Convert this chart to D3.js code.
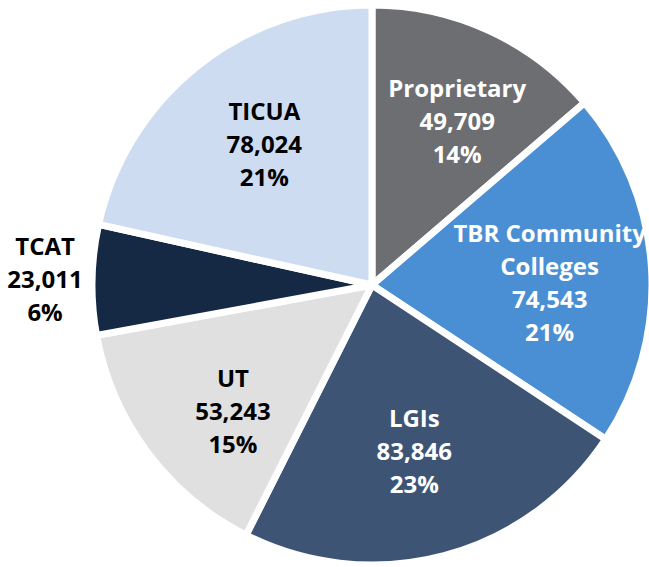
<!DOCTYPE html>
<html>
<head>
<meta charset="utf-8">
<script src="https://cdn.jsdelivr.net/npm/d3@7"></script>
<style>
	html, body { margin: 0; padding: 0; background: #ffffff; }
	svg text { font-family: "Open Sans", sans-serif; font-weight: bold; }
</style>
</head>
<body>
<div id="chart"></div>
<script>
// data
var categories = ["Proprietary", "TBR Community Colleges", "LGIs", "UT", "TCAT", "TICUA"]
var labelLines = [["Proprietary"], ["TBR Community", "Colleges"], ["LGIs"], ["UT"], ["TCAT"], ["TICUA"]]
var enrollment = [49709, 74543, 83846, 53243, 23011, 78024]
var percentLabels = ["14%", "21%", "23%", "15%", "6%", "21%"]

// styles
var sliceColors = ["#6d6e71", "#4a8fd4", "#3e5475", "#e0e0e0", "#152844", "#cddcf1"]
var textColors = ["#ffffff", "#ffffff", "#ffffff", "#000000", "#000000", "#000000"]
var outsideLabel = [false, false, false, false, true, false]
// small label nudges (px) so labels sit where the original placed them
var labelNudge = [[10, 0], [-2, 9], [-4, -7], [5, 19], [5, 1], [5, 0]]

var width = 649
var height = 567
var cx = 372
var cy = 285
var radius = 280
var labelRadius = 180
var outerLabelRadius = 332
var lineHeight = 33

var data = categories.map(function (c, i) {
	return { name: c, lines: labelLines[i], value: enrollment[i], pct: percentLabels[i],
		color: sliceColors[i], text: textColors[i], outside: outsideLabel[i], nudge: labelNudge[i] }
})

var svg = d3.select("#chart")
	.append("svg")
	.attr("width", width)
	.attr("height", height)

var g = svg.append("g")
	.attr("transform", "translate(" + cx + "," + cy + ")")

var pie = d3.pie()
	.sort(null)
	.value(function (d) { return d.value })

var arc = d3.arc()
	.innerRadius(0)
	.outerRadius(radius)

var labelArc = d3.arc()
	.innerRadius(labelRadius)
	.outerRadius(labelRadius)

var outerArc = d3.arc()
	.innerRadius(outerLabelRadius)
	.outerRadius(outerLabelRadius)

var arcs = pie(data)

// slices
g.selectAll("path.slice")
	.data(arcs)
	.enter()
	.append("path")
	.attr("class", "slice")
	.attr("d", arc)
	.attr("fill", function (d) { return d.data.color })
	.attr("stroke", "#ffffff")
	.attr("stroke-width", 7)
	.attr("stroke-linejoin", "miter")

// labels
var fmt = d3.format(",")
g.selectAll("text.label")
	.data(arcs)
	.enter()
	.append("text")
	.attr("class", "label")
	.attr("text-anchor", "middle")
	.attr("fill", function (d) { return d.data.text })
	.style("font-size", "24px")
	.each(function (d) {
		var pos = d.data.outside ? outerArc.centroid(d) : labelArc.centroid(d)
		var px = pos[0] + d.data.nudge[0]
		var py = pos[1] + d.data.nudge[1]
		var lines = d.data.lines.concat([fmt(d.data.value), d.data.pct])
		var top = py - (lines.length - 1) * lineHeight / 2
		var t = d3.select(this)
		lines.forEach(function (line, i) {
			t.append("tspan")
				.attr("x", px)
				.attr("y", top + i * lineHeight)
				.attr("dy", "0.35em")
				.text(line)
		})
	})
</script>
</body>
</html>
